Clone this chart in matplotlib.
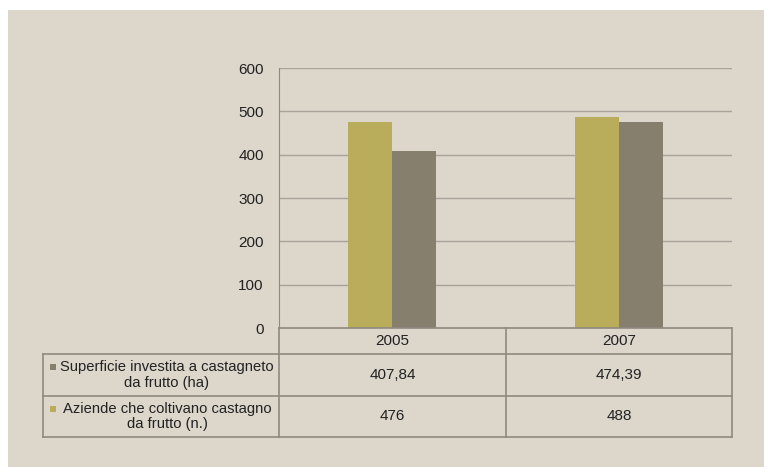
import matplotlib
matplotlib.use("Agg")
import matplotlib.pyplot as plt
from matplotlib.patches import Rectangle

plt.rcParams["font.family"] = ["Liberation Sans", "DejaVu Sans"]

# data
years = ["2005", "2007"]
aziende = [476, 488]
superficie = [407.84, 474.39]
superficie_labels = ["407,84", "474,39"]
aziende_labels = ["476", "488"]
series_names = ["Superficie investita a castagneto\nda frutto (ha)",
                "Aziende che coltivano castagno\nda frutto (n.)"]

YELLOW = "#b9ac5b"
GREY = "#877f6d"
BG = "#dcd6cb"
LINE = "#8f897f"
GRID = "#a8a298"
TXT = "#222222"

W, H = 764, 467
fig = plt.figure(figsize=(W / 100, H / 100), dpi=100)
fig.patch.set_facecolor("white")


def fx(px):
    return px / W


def fy(py):
    return 1 - py / H


# beige panel behind everything
fig.patches.append(Rectangle((fx(8), 0), 1, fy(10), transform=fig.transFigure,
                             facecolor=BG, edgecolor="none", zorder=-10))

# plot area: x 279..732, y 68..328
x0, x1, ytop, ybot = 279, 732, 68, 328
ax = fig.add_axes([fx(x0), fy(ybot), fx(x1) - fx(x0), fy(ytop) - fy(ybot)])
ax.set_facecolor("none")
ax.set_xlim(0, 2)
ax.set_ylim(0, 600)
ax.set_yticks(range(0, 601, 100))
ax.yaxis.grid(True, color=GRID, linewidth=1)
ax.set_axisbelow(True)
for s in ["top", "right", "bottom"]:
    ax.spines[s].set_visible(False)
ax.spines["left"].set_color(LINE)
ax.tick_params(axis="y", length=0, labelsize=11, colors=TXT, pad=11)
ax.set_xticks([])

bw = 0.195
centers = [0.5, 1.5]
ax.bar([c - bw / 2 for c in centers], aziende, width=bw, color=YELLOW, zorder=3)
ax.bar([c + bw / 2 for c in centers], superficie, width=bw, color=GREY, zorder=3)

# table
lw = 1.2
xl, xa, xm, xr = 43, 279, 506, 732
r0, r1, r2, r3 = 328, 354, 396, 437


def hline(y, xa_, xb_):
    fig.add_artist(plt.Line2D([fx(xa_), fx(xb_)], [fy(y), fy(y)],
                              transform=fig.transFigure, color=LINE, lw=lw))


def vline(x, ya_, yb_):
    fig.add_artist(plt.Line2D([fx(x), fx(x)], [fy(ya_), fy(yb_)],
                              transform=fig.transFigure, color=LINE, lw=lw))


hline(r0, xa, xr)
hline(r1, xl, xr)
hline(r2, xl, xr)
hline(r3, xl, xr)
vline(xl, r1, r3)
vline(xa, r0, r3)
vline(xm, r0, r3)
vline(xr, r0, r3)

col_c = [(xa + xm) / 2, (xm + xr) / 2]
for c, yr in zip(col_c, years):
    fig.text(fx(c), fy((r0 + r1) / 2), yr, ha="center", va="center",
             fontsize=11, color=TXT)
for c, a, b in zip(col_c, superficie_labels, aziende_labels):
    fig.text(fx(c), fy((r1 + r2) / 2), a, ha="center", va="center",
             fontsize=11, color=TXT)
    fig.text(fx(c), fy((r2 + r3) / 2), b, ha="center", va="center",
             fontsize=11, color=TXT)

for name, col, (ya_, yb_) in zip(series_names, [GREY, YELLOW], [(r1, r2), (r2, r3)]):
    fig.text(fx(167), fy((ya_ + yb_) / 2), name, ha="center", va="center",
             multialignment="center", fontsize=10.6, color=TXT, linespacing=1.15)
    fig.patches.append(Rectangle((fx(50), fy((ya_ + yb_) / 2 - 5)),
                                 fx(6), 6 / H, transform=fig.transFigure,
                                 facecolor=col, edgecolor="none"))

fig.savefig("out.png", dpi=100, facecolor=fig.get_facecolor())
